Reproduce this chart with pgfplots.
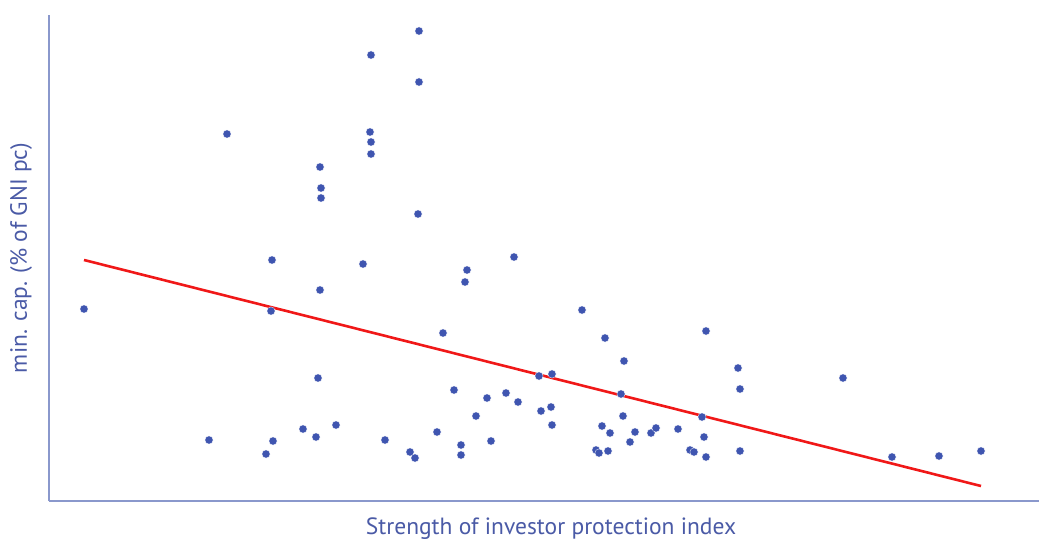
\documentclass[border=0pt]{standalone}
\usepackage{pgfplots}
\pgfplotsset{compat=1.18}
\usepackage{fontspec}
\setmainfont{PT Sans}
\definecolor{dotblue}{HTML}{3F55B0}
\definecolor{axblue}{HTML}{8A98CC}
\definecolor{txtblue}{HTML}{4A5AA6}
\definecolor{fitred}{HTML}{F01818}
\begin{document}
\begin{tikzpicture}[x=1pt,y=1pt]
\useasboundingbox (0,0) rectangle (1039,542);
\begin{axis}[
  at={(49pt,41pt)}, anchor=south west,
  scale only axis, width=990pt, height=486pt,
  xmin=49, xmax=1039, ymin=0, ymax=486,
  axis x line*=bottom, axis y line*=left,
  axis line style={axblue, line width=1.2pt},
  xtick=\empty, ytick=\empty,
  clip=false,
]
\addplot[only marks, mark=*, mark size=4.1pt, mark options={fill=dotblue, draw=white, line width=0.3pt}] table[x=px, y expr=501-\thisrow{py}] {
px py
84 309
227 134
272 260
271 311
209 440
266 454
273 441
320 167
321 188
321 198
320 290
318 378
316 437
303 429
336 425
371 55
370 132
371 142
371 154
363 264
385 440
419 31
419 82
418 214
410 452
415 458
437 432
443 333
454 390
467 270
465 282
461 445
461 455
476 416
487 398
491 441
506 393
514 257
518 402
539 376
552 374
541 411
551 407
552 425
582 310
605 338
624 361
621 394
623 416
602 426
610 433
596 450
599 453
608 451
630 442
635 432
651 433
656 428
678 429
706 331
702 417
704 437
690 450
694 452
706 457
738 368
740 389
740 451
843 378
892 457
939 456
981 451
};
\addplot[fitred, line width=2.6pt] table[x=px, y expr=501-\thisrow{py}] {
px py
84 260
981 486
};
\end{axis}
\node[text=txtblue, font=\fontsize{23.5}{26}\selectfont, rotate=90] at (21,284) {min. cap. (\% of GNI pc)};
\node[text=txtblue, font=\fontsize{23.5}{26}\selectfont] at (551,13) {Strength of investor protection index};
\end{tikzpicture}
\end{document}
